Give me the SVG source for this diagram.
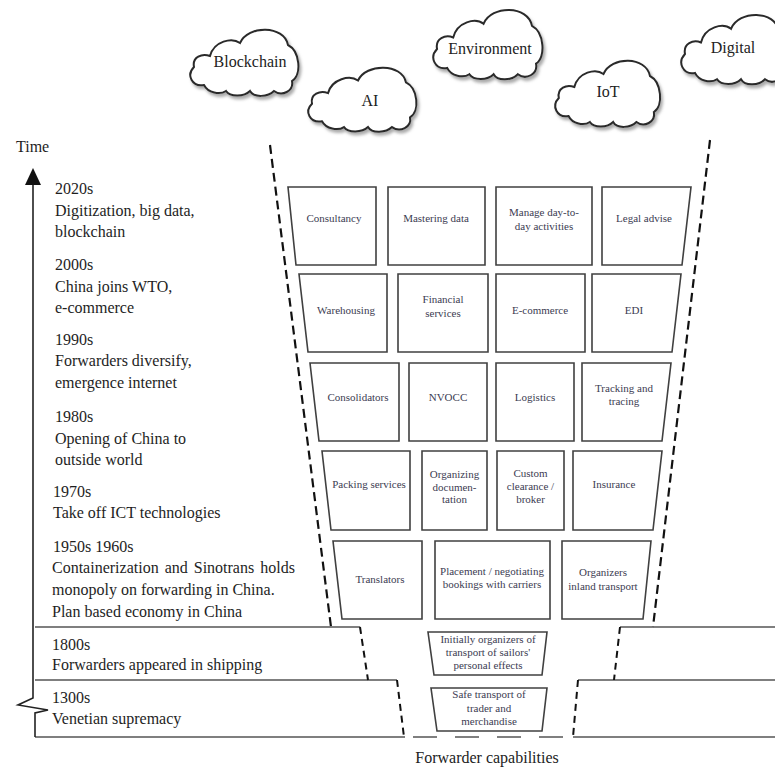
<svg xmlns="http://www.w3.org/2000/svg" xmlns:xlink="http://www.w3.org/1999/xlink" width="775" height="768" viewBox="0 0 775 768">
  <style>
    .era { font-family: "Liberation Serif", "Times New Roman", serif; font-size: 16px; fill: #1e1e1e; }
    .cap { font-family: "Liberation Serif", "Times New Roman", serif; font-size: 11px; fill: #3c3c52; text-anchor: middle; }
    .cloudtxt { font-family: "Liberation Serif", "Times New Roman", serif; font-size: 16px; fill: #222; text-anchor: middle; }
    .box { fill: #fff; stroke: #404040; stroke-width: 1.6; }
    .cloud { fill: #fff; stroke: #2a2a2a; stroke-width: 2; }
    .band { fill: none; stroke: #555; stroke-width: 1.5; }
    .funnel { fill: none; stroke: #111; stroke-width: 2.2; stroke-dasharray: 9 5; }
    .step { fill: none; stroke: #111; stroke-width: 2; stroke-dasharray: 7 5; }
  </style>
  <defs>
    <path id="cloudShape" vector-effect="non-scaling-stroke"
          d="M 16,58 C 4,60 -2,48 6,40 C 4,30 14,26 22,29 C 26,14 44,10 52,16 C 60,-2 96,-2 100,18 C 112,24 114,48 104,54 C 106,64 94,70 86,64 C 80,70 66,71 62,64 C 56,70 42,70 38,64 C 32,68 20,66 16,58 Z"/>
    <filter id="cloudShadow" x="-10%" y="-10%" width="130%" height="140%">
      <feDropShadow dx="2" dy="3" stdDeviation="1.5" flood-color="#888" flood-opacity="0.7"/>
    </filter>
  </defs>

  <!-- technology clouds -->
  <g id="cloud-blockchain">
    <use xlink:href="#cloudShape" class="cloud" filter="url(#cloudShadow)" transform="translate(188,27)"/>
    <text class="cloudtxt" x="250" y="67">Blockchain</text>
  </g>
  <g id="cloud-ai">
    <use xlink:href="#cloudShape" class="cloud" filter="url(#cloudShadow)" transform="translate(306,65) scale(1,0.97)"/>
    <text class="cloudtxt" x="370" y="106">AI</text>
  </g>
  <g id="cloud-environment">
    <use xlink:href="#cloudShape" class="cloud" filter="url(#cloudShadow)" transform="translate(431,7) scale(1.01,1.05)"/>
    <text class="cloudtxt" x="490" y="54">Environment</text>
  </g>
  <g id="cloud-iot">
    <use xlink:href="#cloudShape" class="cloud" filter="url(#cloudShadow)" transform="translate(553,58) scale(0.97,1)"/>
    <text class="cloudtxt" x="608" y="97">IoT</text>
  </g>

  <!-- funnel outline and era bands -->
  <g id="connectors">
    <line class="funnel" x1="270" y1="145" x2="331" y2="627"/>
    <line class="funnel" x1="710" y1="140" x2="653" y2="627"/>
    <polyline class="band" points="35,627 360,627"/>
    <polyline class="band" points="620,627 775,627"/>
    <polyline class="band" points="35,680 397,680"/>
    <polyline class="band" points="578,680 775,680"/>
    <polyline class="band" points="35,737 405,737"/>
    <polyline class="band" points="573,737 775,737"/>
    <line class="band" x1="413" y1="737" x2="566" y2="737" stroke-dasharray="24 18"/>
    <line class="step" x1="360" y1="627" x2="368" y2="680"/>
    <line class="step" x1="397" y1="680" x2="404" y2="737"/>
    <line class="step" x1="620" y1="627" x2="614" y2="680"/>
    <line class="step" x1="578" y1="680" x2="573" y2="737"/>
    <!-- time axis with break -->
    <polyline fill="none" stroke="#222" stroke-width="1.6"
              points="35,737 35,713 48,710 18,705 33,698 33,182"/>
    <polygon points="33,168 25,185 41,185" fill="#111"/>
  </g>

  <g id="cloud-digital">
    <use xlink:href="#cloudShape" class="cloud" filter="url(#cloudShadow)" transform="translate(679,12) scale(1,1.05)"/>
    <text class="cloudtxt" x="733" y="53">Digital</text>
  </g>

  <!-- time axis labels -->
  <g id="timeline">
    <text class="era" x="16" y="152" font-size="14">Time</text>
    <text class="era" x="55" y="194">2020s</text>
    <text class="era" x="55" y="216">Digitization, big data,</text>
    <text class="era" x="55" y="237">blockchain</text>
    <text class="era" x="55" y="270">2000s</text>
    <text class="era" x="55" y="292">China joins WTO,</text>
    <text class="era" x="55" y="313">e-commerce</text>
    <text class="era" x="55" y="345">1990s</text>
    <text class="era" x="55" y="366">Forwarders diversify,</text>
    <text class="era" x="55" y="388">emergence internet</text>
    <text class="era" x="55" y="422">1980s</text>
    <text class="era" x="55" y="444">Opening of China to</text>
    <text class="era" x="55" y="465">outside world</text>
    <text class="era" x="53" y="497">1970s</text>
    <text class="era" x="53" y="518">Take off ICT technologies</text>
    <text class="era" x="53" y="552">1950s 1960s</text>
    <text class="era" x="52" y="573" word-spacing="2">Containerization and Sinotrans holds</text>
    <text class="era" x="52" y="595">monopoly on forwarding in China.</text>
    <text class="era" x="52" y="617">Plan based economy in China</text>
    <text class="era" x="52" y="650">1800s</text>
    <text class="era" x="52" y="670">Forwarders appeared in shipping</text>
    <text class="era" x="52" y="703">1300s</text>
    <text class="era" x="52" y="724">Venetian supremacy</text>
  </g>

  <!-- row 1 -->
  <g id="consultancy">
    <polygon class="box" points="288,187 376,187 376,265 296,265"/>
    <text class="cap" x="334" y="222">Consultancy</text>
  </g>
  <g id="mastering-data">
    <polygon class="box" points="388,187 485,187 485,265 388,265"/>
    <text class="cap" x="436" y="222">Mastering data</text>
  </g>
  <g id="manage-activities">
    <polygon class="box" points="496,187 592,187 592,265 496,265"/>
    <text class="cap" x="544" y="216">Manage day-to-</text>
    <text class="cap" x="544" y="230">day activities</text>
  </g>
  <g id="legal-advise">
    <polygon class="box" points="602,187 691,187 682,265 602,265"/>
    <text class="cap" x="644" y="222">Legal advise</text>
  </g>

  <!-- row 2 -->
  <g id="warehousing">
    <polygon class="box" points="299,274 387,274 387,352 308,352"/>
    <text class="cap" x="346" y="314">Warehousing</text>
  </g>
  <g id="financial-services">
    <polygon class="box" points="398,274 488,274 488,352 398,352"/>
    <text class="cap" x="443" y="303">Financial</text>
    <text class="cap" x="443" y="317">services</text>
  </g>
  <g id="e-commerce">
    <polygon class="box" points="496,274 585,274 585,352 496,352"/>
    <text class="cap" x="540" y="314">E-commerce</text>
  </g>
  <g id="edi">
    <polygon class="box" points="592,274 681,274 672,352 592,352"/>
    <text class="cap" x="634" y="314">EDI</text>
  </g>

  <!-- row 3 -->
  <g id="consolidators">
    <polygon class="box" points="310,363 399,363 399,441 319,441"/>
    <text class="cap" x="358" y="401">Consolidators</text>
  </g>
  <g id="nvocc">
    <polygon class="box" points="409,363 487,363 487,441 409,441"/>
    <text class="cap" x="448" y="401">NVOCC</text>
  </g>
  <g id="logistics">
    <polygon class="box" points="496,363 574,363 574,441 496,441"/>
    <text class="cap" x="535" y="401">Logistics</text>
  </g>
  <g id="tracking-tracing">
    <polygon class="box" points="582,363 671,363 662,441 582,441"/>
    <text class="cap" x="624" y="392">Tracking and</text>
    <text class="cap" x="624" y="405">tracing</text>
  </g>

  <!-- row 4 -->
  <g id="packing-services">
    <polygon class="box" points="322,451 410,451 410,530 331,530"/>
    <text class="cap" x="369" y="488">Packing services</text>
  </g>
  <g id="organizing-documentation">
    <polygon class="box" points="422,451 487,451 487,530 422,530"/>
    <text class="cap" x="454.5" y="478">Organizing</text>
    <text class="cap" x="454.5" y="491">documen-</text>
    <text class="cap" x="454.5" y="503">tation</text>
  </g>
  <g id="custom-clearance">
    <polygon class="box" points="497,451 564,451 564,530 497,530"/>
    <text class="cap" x="530.5" y="477">Custom</text>
    <text class="cap" x="530.5" y="490">clearance /</text>
    <text class="cap" x="530.5" y="503">broker</text>
  </g>
  <g id="insurance">
    <polygon class="box" points="573,451 662,451 653,530 573,530"/>
    <text class="cap" x="614" y="488">Insurance</text>
  </g>

  <!-- row 5 -->
  <g id="translators">
    <polygon class="box" points="333,541 422,541 422,619 342,619"/>
    <text class="cap" x="380" y="583">Translators</text>
  </g>
  <g id="placement-bookings">
    <polygon class="box" points="435,541 550,541 550,619 435,619"/>
    <text class="cap" x="492" y="575">Placement / negotiating</text>
    <text class="cap" x="492" y="588">bookings with carriers</text>
  </g>
  <g id="inland-transport">
    <polygon class="box" points="562,541 651,541 643,619 562,619"/>
    <text class="cap" x="603" y="576">Organizers</text>
    <text class="cap" x="603" y="590">inland transport</text>
  </g>

  <!-- early capabilities -->
  <g id="sailors-effects">
    <polygon class="box" points="428,632 547,632 542,675 434,675"/>
    <text class="cap" x="488" y="643">Initially organizers of</text>
    <text class="cap" x="488" y="656">transport of sailors'</text>
    <text class="cap" x="488" y="669">personal effects</text>
  </g>
  <g id="safe-transport">
    <polygon class="box" points="431,688 547,688 542,731 437,731"/>
    <text class="cap" x="489" y="698">Safe transport of</text>
    <text class="cap" x="489" y="712">trader and</text>
    <text class="cap" x="489" y="725">merchandise</text>
  </g>

  <text class="cloudtxt" x="487" y="763">Forwarder capabilities</text>
</svg>
